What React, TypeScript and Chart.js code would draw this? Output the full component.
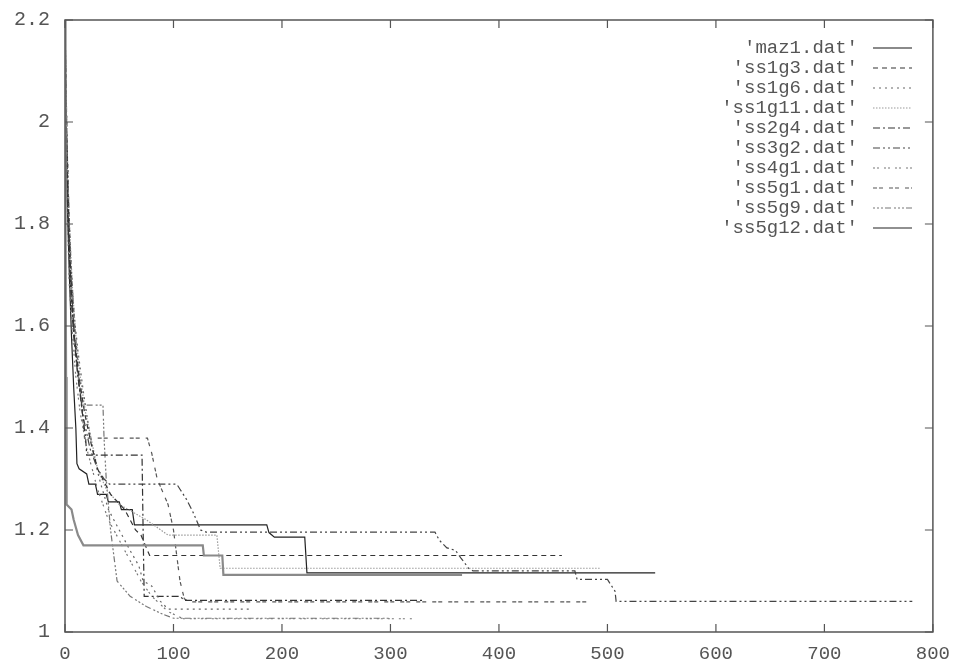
import React, { useEffect, useRef } from "react";
import { Chart, registerables } from "chart.js";

Chart.register(...registerables);

type P = [number, number];

const seriesNames = [
  "'maz1.dat'",
  "'ss1g3.dat'",
  "'ss1g6.dat'",
  "'ss1g11.dat'",
  "'ss2g4.dat'",
  "'ss3g2.dat'",
  "'ss4g1.dat'",
  "'ss5g1.dat'",
  "'ss5g9.dat'",
  "'ss5g12.dat'",
];

const maz1: P[] = [[0, 2.2], [0.5, 1.8], [1, 1.5], [1.5, 1.25], [6, 1.24], [8, 1.22], [12, 1.19], [17, 1.17], [127, 1.17], [128, 1.15], [145, 1.15], [146, 1.112], [366, 1.112]];
const ss1g3: P[] = [[0, 2.2], [1, 2.02], [2, 1.9], [4, 1.76], [6, 1.66], [9, 1.57], [13, 1.5], [18, 1.43], [24, 1.37], [30, 1.32], [42, 1.27], [55, 1.24], [65, 1.2], [70, 1.19], [76, 1.16], [78, 1.15], [458, 1.15]];
const ss1g6: P[] = [[0, 2.2], [1.5, 2.0], [3, 1.86], [5, 1.74], [8, 1.63], [12, 1.55], [17, 1.47], [22, 1.4], [27, 1.34], [33, 1.29], [40, 1.24], [50, 1.2], [60, 1.16], [68, 1.13], [72, 1.1], [80, 1.09], [88, 1.06], [95, 1.045], [170, 1.045]];
const ss1g11: P[] = [[0, 2.2], [1, 2.05], [2.5, 1.9], [4.5, 1.78], [7, 1.67], [10, 1.58], [14, 1.5], [19, 1.43], [25, 1.37], [30, 1.32], [38, 1.28], [50, 1.25], [75, 1.22], [95, 1.19], [140, 1.19], [143, 1.125], [493, 1.125]];
const ss2g4: P[] = [[0, 2.2], [1, 2.0], [3, 1.8], [5, 1.68], [8, 1.58], [12, 1.5], [16, 1.43], [19, 1.38], [20, 1.347], [71, 1.347], [72, 1.2], [73, 1.07], [106, 1.07], [110, 1.062], [330, 1.062]];
const ss3g2: P[] = [[0, 2.2], [1.5, 2.0], [3, 1.85], [5, 1.72], [8, 1.6], [12, 1.5], [17, 1.42], [23, 1.36], [30, 1.32], [36, 1.3], [41, 1.29], [103, 1.29], [106, 1.28], [112, 1.26], [118, 1.235], [125, 1.2], [130, 1.196], [341, 1.196], [345, 1.18], [352, 1.165], [360, 1.16], [365, 1.145], [372, 1.125], [376, 1.12], [470, 1.12], [472, 1.103], [500, 1.103], [507, 1.08], [508, 1.06], [781, 1.06]];
const ss4g1: P[] = [[0, 2.2], [1, 1.95], [2.5, 1.8], [4, 1.68], [7, 1.58], [10, 1.5], [14, 1.43], [20, 1.36], [30, 1.28], [40, 1.22], [50, 1.18], [60, 1.14], [70, 1.1], [80, 1.07], [85, 1.06], [95, 1.04], [105, 1.03], [109, 1.026], [320, 1.026]];
const ss5g1: P[] = [[0, 2.2], [2, 1.95], [4, 1.8], [6, 1.7], [9, 1.6], [12, 1.52], [15, 1.45], [18, 1.38], [76, 1.38], [80, 1.35], [85, 1.3], [95, 1.25], [100, 1.2], [103, 1.15], [106, 1.1], [110, 1.065], [115, 1.059], [484, 1.059]];
const ss5g9: P[] = [[0, 2.2], [1, 2.0], [3, 1.82], [5, 1.7], [8, 1.6], [11, 1.52], [14, 1.47], [16, 1.445], [35, 1.445], [36, 1.38], [38, 1.3], [42, 1.2], [45, 1.15], [48, 1.1], [60, 1.07], [75, 1.05], [90, 1.035], [100, 1.027], [300, 1.027]];
const ss5g12: P[] = [[0, 2.2], [1, 2.0], [2, 1.85], [4, 1.7], [6, 1.58], [8, 1.48], [10, 1.4], [11, 1.33], [13, 1.32], [20, 1.31], [22, 1.29], [28, 1.29], [30, 1.27], [38, 1.27], [40, 1.255], [50, 1.255], [52, 1.24], [62, 1.24], [64, 1.21], [186, 1.21], [188, 1.195], [193, 1.186], [221, 1.186], [223, 1.116], [544, 1.116]];

const seriesData: P[][] = [maz1, ss1g3, ss1g6, ss1g11, ss2g4, ss3g2, ss4g1, ss5g1, ss5g9, ss5g12];

const xTicks = [0, 100, 200, 300, 400, 500, 600, 700, 800];
const yTicks = [1, 1.2, 1.4, 1.6, 1.8, 2, 2.2];

const styles = [
  { color: "#8a8a8a", width: 2.2, dash: [] as number[] },
  { color: "#333333", width: 1.2, dash: [5, 4] },
  { color: "#666666", width: 1.2, dash: [2, 4] },
  { color: "#9a9a9a", width: 1.2, dash: [1.5, 1.5] },
  { color: "#333333", width: 1.2, dash: [7, 3, 2, 3] },
  { color: "#444444", width: 1.2, dash: [7, 3, 2, 3, 2, 3] },
  { color: "#777777", width: 1.2, dash: [2, 2, 2, 5] },
  { color: "#555555", width: 1.2, dash: [4, 2, 4, 6] },
  { color: "#777777", width: 1.2, dash: [2, 2, 2, 2, 2, 2, 6, 3] },
  { color: "#222222", width: 1.2, dash: [] as number[] },
];

const FONT = "'Liberation Mono', 'DejaVu Sans Mono', monospace";

const framePlugin = {
  id: "frame",
  afterDraw(chart: any) {
    const { ctx, chartArea } = chart;
    const { left, right, top, bottom } = chartArea;
    const xs = chart.scales.x;
    const ys = chart.scales.y;
    ctx.save();
    ctx.strokeStyle = "#555";
    ctx.lineWidth = 1.5;
    ctx.setLineDash([]);
    ctx.strokeRect(left, top, right - left, bottom - top);
    ctx.lineWidth = 1.2;
    const tl = 8;
    xTicks.forEach((v) => {
      const px = xs.getPixelForValue(v);
      ctx.beginPath();
      ctx.moveTo(px, bottom);
      ctx.lineTo(px, bottom - tl);
      ctx.moveTo(px, top);
      ctx.lineTo(px, top + tl);
      ctx.stroke();
    });
    yTicks.forEach((v) => {
      const py = ys.getPixelForValue(v);
      ctx.beginPath();
      ctx.moveTo(left, py);
      ctx.lineTo(left + tl, py);
      ctx.moveTo(right, py);
      ctx.lineTo(right - tl, py);
      ctx.stroke();
    });
    // legend
    ctx.font = `19px ${FONT}`;
    ctx.textAlign = "right";
    ctx.textBaseline = "middle";
    seriesNames.forEach((name, i) => {
      const y = 48 + i * 20;
      ctx.fillStyle = "#555";
      ctx.fillText(name, 858, y);
      const s = styles[i];
      ctx.strokeStyle = s.color;
      ctx.lineWidth = s.width;
      ctx.setLineDash(s.dash);
      ctx.beginPath();
      ctx.moveTo(873, y);
      ctx.lineTo(912, y);
      ctx.stroke();
    });
    ctx.restore();
  },
};

export default function App() {
  const ref = useRef<HTMLCanvasElement | null>(null);
  useEffect(() => {
    document.body.style.margin = "0";
    document.body.style.background = "#ffffff";
    const canvas = ref.current!;
    const chart = new Chart(canvas, {
      type: "line",
      data: {
        datasets: seriesData.map((d, i) => ({
          label: seriesNames[i],
          data: d.map(([x, y]) => ({ x, y })),
          borderColor: styles[i].color,
          borderWidth: styles[i].width,
          borderDash: styles[i].dash,
          pointRadius: 0,
          tension: 0,
          fill: false,
        })),
      },
      options: {
        responsive: false,
        animation: false,
        layout: { padding: { left: 0, right: 20, top: 20, bottom: 0 } },
        plugins: { legend: { display: false }, tooltip: { enabled: false } },
        scales: {
          x: {
            type: "linear",
            min: 0,
            max: 800,
            afterBuildTicks: (scale: any) => {
              scale.ticks = xTicks.map((v) => ({ value: v }));
            },
            afterFit: (scale: any) => {
              scale.height = 32;
            },
            grid: { display: false },
            border: { display: false },
            ticks: {
              color: "#555",
              padding: 3,
              maxRotation: 0,
              font: { family: FONT, size: 19 },
              callback: (v: any) => String(v),
            },
          },
          y: {
            type: "linear",
            min: 1,
            max: 2.2,
            afterBuildTicks: (scale: any) => {
              scale.ticks = yTicks.map((v) => ({ value: v }));
            },
            afterFit: (scale: any) => {
              scale.width = 65;
            },
            grid: { display: false },
            border: { display: false },
            ticks: {
              color: "#555",
              padding: 7,
              font: { family: FONT, size: 20 },
              callback: (v: any) => String(Number(Number(v).toFixed(1))),
            },
          },
        },
      },
      plugins: [framePlugin],
    });
    return () => chart.destroy();
  }, []);
  return (
    <div style={{ width: 953, height: 664, background: "#fff" }}>
      <canvas ref={ref} width={953} height={664} style={{ display: "block" }} />
    </div>
  );
}
